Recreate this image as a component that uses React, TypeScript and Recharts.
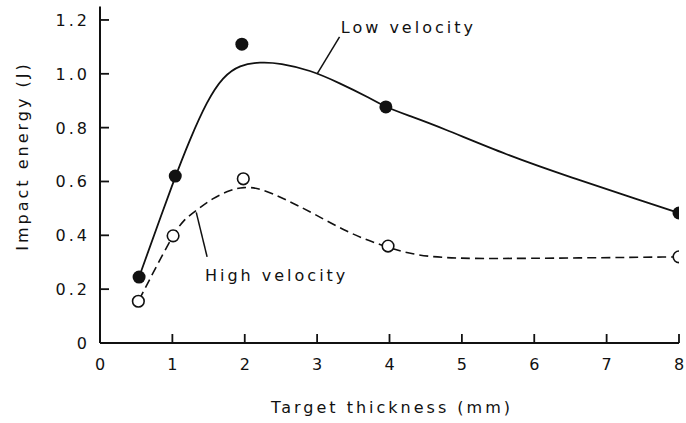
import { ComposedChart, Line, Scatter, XAxis, YAxis, ReferenceLine, ReferenceDot } from "recharts"

// measured points (target thickness in mm, impact energy in J)
const lowX = [0.54, 1.04, 1.96, 3.95, 8]
const lowY = [0.245, 0.62, 1.11, 0.877, 0.483]
const highX = [0.53, 1.01, 1.98, 3.98, 8]
const highY = [0.155, 0.398, 0.61, 0.36, 0.32]

// hand-drawn fit curves
const lowCurveX = [0.54, 1.04, 1.24, 1.48, 1.7, 1.93, 2.21, 2.49, 2.9, 3.31, 3.73, 3.94, 4.24, 4.7, 5.62, 6.53, 7.46, 8]
const lowCurveY = [0.245, 0.62, 0.755, 0.9, 0.99, 1.033, 1.044, 1.04, 1.014, 0.966, 0.91, 0.877, 0.847, 0.802, 0.698, 0.613, 0.531, 0.483]
const highCurveX = [0.54, 0.99, 1.15, 1.34, 1.56, 1.8, 1.98, 2.21, 2.58, 2.94, 3.41, 3.87, 4.32, 4.79, 5.25, 6.63, 8]
const highCurveY = [0.16, 0.394, 0.457, 0.494, 0.539, 0.568, 0.58, 0.576, 0.531, 0.483, 0.412, 0.364, 0.327, 0.316, 0.313, 0.316, 0.32]

const xTicks = [0, 1, 2, 3, 4, 5, 6, 7, 8]
const yTicks = [0, 0.2, 0.4, 0.6, 0.8, 1.0, 1.2]

const zip = (xs: number[], ys: number[]) => xs.map((x, i) => ({ x, y: ys[i] }))

const low = zip(lowX, lowY)
const high = zip(highX, highY)
const lowCurve = zip(lowCurveX, lowCurveY)
const highCurve = zip(highCurveX, highCurveY)

const ink = "#111"
const font = "'DejaVu Sans', sans-serif"
const textStyle = { fontFamily: font, fontSize: 16, letterSpacing: 3, fill: ink }

function XTick({ x, y, payload }: any) {
  return (
    <g>
      <line x1={x} y1={y} x2={x} y2={y - 9} stroke={ink} strokeWidth={1.8} />
      <text x={x + 1.5} y={y + 27} textAnchor="middle" style={textStyle}>
        {payload.value}
      </text>
    </g>
  )
}

function YTick({ x, y, payload }: any) {
  const v = payload.value === 0 ? "0" : payload.value.toFixed(1)
  return (
    <g>
      <line x1={x} y1={y} x2={x + 9} y2={y} stroke={ink} strokeWidth={1.8} />
      <text x={x - 10} y={y + 6} textAnchor="end" style={textStyle}>
        {v}
      </text>
    </g>
  )
}

const filledDot = (p: any) => <circle cx={p.cx} cy={p.cy} r={6.5} fill={ink} />
const openDot = (p: any) => <circle cx={p.cx} cy={p.cy} r={5.8} fill="#fff" stroke={ink} strokeWidth={1.6} />

const textLabel = (value: string) => (props: any) => {
  const vb = props.viewBox
  const cx = vb.x + vb.width / 2
  const cy = vb.y + vb.height / 2
  return (
    <text x={cx + 1.5} y={cy + 6} textAnchor="middle" style={textStyle}>
      {value}
    </text>
  )
}

export default function App() {
  return (
    <div style={{ position: "absolute", left: 0, top: 0, background: "#fff" }}>
      <ComposedChart width={686} height={423} margin={{ top: 6.5, right: 7, bottom: 0, left: 0 }}>
        <XAxis
          dataKey="x"
          type="number"
          domain={[0, 8]}
          ticks={xTicks}
          allowDataOverflow
          height={80}
          tickSize={0}
          tickMargin={0}
          tickLine={false}
          tick={<XTick />}
          axisLine={{ stroke: ink, strokeWidth: 2 }}
          label={{
            content: () => (
              <text x={392} y={413} textAnchor="middle" style={textStyle}>
                Target thickness (mm)
              </text>
            ),
          }}
        />
        <YAxis
          dataKey="y"
          type="number"
          domain={[0, 1.25]}
          ticks={yTicks}
          allowDataOverflow
          width={100}
          tickSize={0}
          tickMargin={0}
          tickLine={false}
          tick={<YTick />}
          axisLine={{ stroke: ink, strokeWidth: 2 }}
          label={{
            content: () => (
              <text x={28} y={156} textAnchor="middle" transform="rotate(-90 28 156)" style={textStyle}>
                Impact energy (J)
              </text>
            ),
          }}
        />
        <Line
          data={lowCurve}
          dataKey="y"
          type="basis"
          stroke={ink}
          strokeWidth={1.8}
          dot={false}
          isAnimationActive={false}
        />
        <Line
          data={highCurve}
          dataKey="y"
          type="basis"
          stroke={ink}
          strokeWidth={1.6}
          strokeDasharray="9 5"
          dot={false}
          isAnimationActive={false}
        />
        <ReferenceLine segment={[{ x: 3.0, y: 1.0 }, { x: 3.31, y: 1.137 }]} stroke={ink} strokeWidth={1.5} />
        <ReferenceLine segment={[{ x: 1.33, y: 0.485 }, { x: 1.48, y: 0.32 }]} stroke={ink} strokeWidth={1.5} />
        <Scatter data={low} dataKey="y" shape={filledDot} isAnimationActive={false} />
        <Scatter data={high} dataKey="y" shape={openDot} isAnimationActive={false} />
        <ReferenceDot x={4.24} y={1.174} r={1} fill="none" stroke="none" label={{ content: textLabel("Low velocity") }} />
        <ReferenceDot x={2.42} y={0.253} r={1} fill="none" stroke="none" label={{ content: textLabel("High velocity") }} />
      </ComposedChart>
    </div>
  )
}
